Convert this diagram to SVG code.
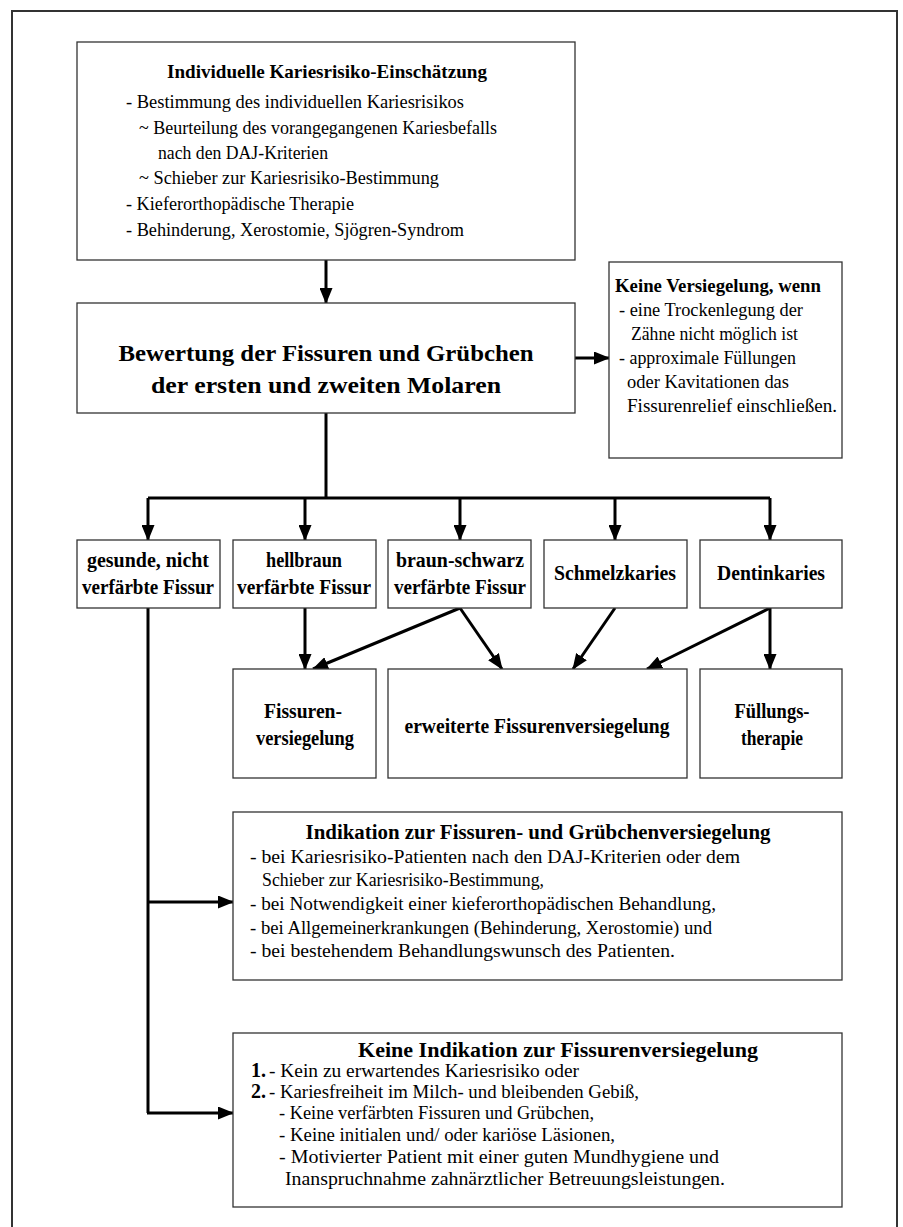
<svg xmlns="http://www.w3.org/2000/svg" width="903" height="1227" viewBox="0 0 903 1227">
<defs>
<marker id="ah" viewBox="0 0 16 13" refX="15" refY="6.5" markerWidth="16" markerHeight="13" markerUnits="userSpaceOnUse" orient="auto">
<path d="M0,0 L16,6.5 L0,13 Z" fill="#000"/>
</marker>
<style>
text{font-family:"Liberation Serif","Times New Roman",serif;fill:#000;}
.n{font-size:18.5px;}
.b{font-size:19px;font-weight:bold;}
.r{font-size:20px;font-weight:bold;}
.m{font-size:19px;}
.k{font-size:18px;}
.mb{font-size:20px;font-weight:bold;}
.big{font-size:24px;font-weight:bold;}
.box{fill:#fff;stroke:#333;stroke-width:1.3;}
.c{fill:none;stroke:#000;stroke-width:3;}
.ca{fill:none;stroke:#000;stroke-width:3;marker-end:url(#ah);}
</style>
</defs>
<rect width="903" height="1227" fill="#fff"/>
<path d="M12,1227 L12,11 L897,11 L897,1227" fill="none" stroke="#333" stroke-width="2"/>

<g id="connectors">
<line class="ca" x1="326" y1="260" x2="326" y2="303"/>
<line class="ca" x1="575" y1="358" x2="609" y2="358"/>
<path class="c" d="M326,413 L326,498"/>
<path class="c" d="M148,498 L770,498"/>
<line class="ca" x1="148" y1="498" x2="148" y2="540"/>
<line class="ca" x1="305" y1="498" x2="305" y2="540"/>
<line class="ca" x1="460" y1="498" x2="460" y2="540"/>
<line class="ca" x1="615" y1="498" x2="615" y2="540"/>
<line class="ca" x1="770" y1="498" x2="770" y2="540"/>
<line class="ca" x1="305" y1="608" x2="305" y2="669"/>
<line class="ca" x1="460" y1="608" x2="313" y2="669"/>
<line class="ca" x1="460" y1="608" x2="502" y2="669"/>
<line class="ca" x1="615" y1="608" x2="573" y2="669"/>
<line class="ca" x1="770" y1="608" x2="647" y2="669"/>
<line class="ca" x1="770" y1="608" x2="770" y2="669"/>
<path class="c" d="M148,608 L148,1113"/>
<line class="ca" x1="147" y1="902" x2="233" y2="902"/>
<line class="ca" x1="147" y1="1113" x2="233" y2="1113"/>
</g>

<g id="n1">
<rect class="box" x="77" y="42" width="498" height="218"/>
<text class="b" x="327" y="78" text-anchor="middle" textLength="320" lengthAdjust="spacingAndGlyphs">Individuelle Kariesrisiko-Einschätzung</text>
<text class="n" x="126" y="108" textLength="338" lengthAdjust="spacingAndGlyphs">- Bestimmung des individuellen Kariesrisikos</text>
<text class="n" x="139" y="134" textLength="358" lengthAdjust="spacingAndGlyphs">~ Beurteilung des vorangegangenen Kariesbefalls</text>
<text class="n" x="158" y="159" textLength="170" lengthAdjust="spacingAndGlyphs">nach den DAJ-Kriterien</text>
<text class="n" x="139" y="184" textLength="300" lengthAdjust="spacingAndGlyphs">~ Schieber zur Kariesrisiko-Bestimmung</text>
<text class="n" x="126" y="210" textLength="228" lengthAdjust="spacingAndGlyphs">- Kieferorthopädische Therapie</text>
<text class="n" x="126" y="236" textLength="338" lengthAdjust="spacingAndGlyphs">- Behinderung, Xerostomie, Sjögren-Syndrom</text>
</g>

<g id="n2">
<rect class="box" x="77" y="303" width="498" height="110"/>
<text class="big" x="326" y="361" text-anchor="middle" textLength="415" lengthAdjust="spacingAndGlyphs">Bewertung der Fissuren und Grübchen</text>
<text class="big" x="326" y="393" text-anchor="middle" textLength="350" lengthAdjust="spacingAndGlyphs">der ersten und zweiten Molaren</text>
</g>

<g id="n3">
<rect class="box" x="609" y="262" width="233" height="196"/>
<text class="b" x="615" y="292" textLength="206" lengthAdjust="spacingAndGlyphs">Keine Versiegelung, wenn</text>
<text class="n" x="619" y="316" textLength="184" lengthAdjust="spacingAndGlyphs">- eine Trockenlegung der</text>
<text class="n" x="631" y="340" textLength="167" lengthAdjust="spacingAndGlyphs">Zähne nicht möglich ist</text>
<text class="n" x="619" y="364" textLength="177" lengthAdjust="spacingAndGlyphs">- approximale Füllungen</text>
<text class="n" x="627" y="388" textLength="162" lengthAdjust="spacingAndGlyphs">oder Kavitationen das</text>
<text class="n" x="627" y="412" textLength="210" lengthAdjust="spacingAndGlyphs">Fissurenrelief einschließen.</text>
</g>

<g id="n4">
<rect class="box" x="77" y="540" width="143" height="68"/>
<text class="r" x="148" y="567" text-anchor="middle" textLength="122" lengthAdjust="spacingAndGlyphs">gesunde, nicht</text>
<text class="r" x="148" y="594" text-anchor="middle" textLength="132" lengthAdjust="spacingAndGlyphs">verfärbte Fissur</text>
</g>
<g id="n5">
<rect class="box" x="233" y="540" width="143" height="68"/>
<text class="r" x="304" y="567" text-anchor="middle" textLength="76" lengthAdjust="spacingAndGlyphs">hellbraun</text>
<text class="r" x="304" y="594" text-anchor="middle" textLength="134" lengthAdjust="spacingAndGlyphs">verfärbte Fissur</text>
</g>
<g id="n6">
<rect class="box" x="388" y="540" width="143" height="68"/>
<text class="r" x="460" y="567" text-anchor="middle" textLength="128" lengthAdjust="spacingAndGlyphs">braun-schwarz</text>
<text class="r" x="460" y="594" text-anchor="middle" textLength="132" lengthAdjust="spacingAndGlyphs">verfärbte Fissur</text>
</g>
<g id="n7">
<rect class="box" x="544" y="540" width="143" height="68"/>
<text class="r" x="615" y="580" text-anchor="middle" textLength="122" lengthAdjust="spacingAndGlyphs">Schmelzkaries</text>
</g>
<g id="n8">
<rect class="box" x="700" y="540" width="142" height="68"/>
<text class="r" x="771" y="580" text-anchor="middle" textLength="108" lengthAdjust="spacingAndGlyphs">Dentinkaries</text>
</g>

<g id="n9">
<rect class="box" x="233" y="669" width="143" height="109"/>
<text class="r" x="303" y="718" text-anchor="middle" textLength="78" lengthAdjust="spacingAndGlyphs">Fissuren-</text>
<text class="r" x="305" y="745" text-anchor="middle" textLength="98" lengthAdjust="spacingAndGlyphs">versiegelung</text>
</g>
<g id="n10">
<rect class="box" x="388" y="669" width="299" height="109"/>
<text class="r" x="537" y="733" text-anchor="middle" textLength="265" lengthAdjust="spacingAndGlyphs">erweiterte Fissurenversiegelung</text>
</g>
<g id="n11">
<rect class="box" x="700" y="669" width="142" height="109"/>
<text class="r" x="772" y="718" text-anchor="middle" textLength="75" lengthAdjust="spacingAndGlyphs">Füllungs-</text>
<text class="r" x="772" y="745" text-anchor="middle" textLength="62" lengthAdjust="spacingAndGlyphs">therapie</text>
</g>

<g id="n12">
<rect class="box" x="233" y="812" width="609" height="168"/>
<text class="mb" x="538" y="839" text-anchor="middle" textLength="465" lengthAdjust="spacingAndGlyphs">Indikation zur Fissuren- und Grübchenversiegelung</text>
<text class="m" x="250" y="863" textLength="490" lengthAdjust="spacingAndGlyphs">- bei Kariesrisiko-Patienten nach den DAJ-Kriterien oder dem</text>
<text class="m" x="262" y="886" textLength="282" lengthAdjust="spacingAndGlyphs">Schieber zur Kariesrisiko-Bestimmung,</text>
<text class="m" x="250" y="910" textLength="466" lengthAdjust="spacingAndGlyphs">- bei Notwendigkeit einer kieferorthopädischen Behandlung,</text>
<text class="m" x="250" y="934" textLength="462" lengthAdjust="spacingAndGlyphs">- bei Allgemeinerkrankungen (Behinderung, Xerostomie) und</text>
<text class="m" x="250" y="957" textLength="425" lengthAdjust="spacingAndGlyphs">- bei bestehendem Behandlungswunsch des Patienten.</text>
</g>

<g id="n13">
<rect class="box" x="233" y="1033" width="609" height="174"/>
<text class="mb" x="558" y="1057" text-anchor="middle" textLength="400" lengthAdjust="spacingAndGlyphs">Keine Indikation zur Fissurenversiegelung</text>
<text class="mb" x="251" y="1077">1.</text>
<text class="k" x="269" y="1077" textLength="310" lengthAdjust="spacingAndGlyphs">- Kein zu erwartendes Kariesrisiko oder</text>
<text class="mb" x="251" y="1098">2.</text>
<text class="k" x="269" y="1098" textLength="370" lengthAdjust="spacingAndGlyphs">- Kariesfreiheit im Milch- und bleibenden Gebiß,</text>
<text class="k" x="279" y="1119" textLength="315" lengthAdjust="spacingAndGlyphs">- Keine verfärbten Fissuren und Grübchen,</text>
<text class="k" x="279" y="1141" textLength="336" lengthAdjust="spacingAndGlyphs">- Keine initialen und/ oder kariöse Läsionen,</text>
<text class="k" x="279" y="1163" textLength="440" lengthAdjust="spacingAndGlyphs">- Motivierter Patient mit einer guten Mundhygiene und</text>
<text class="k" x="285" y="1185" textLength="440" lengthAdjust="spacingAndGlyphs">Inanspruchnahme zahnärztlicher Betreuungsleistungen.</text>
</g>
</svg>
